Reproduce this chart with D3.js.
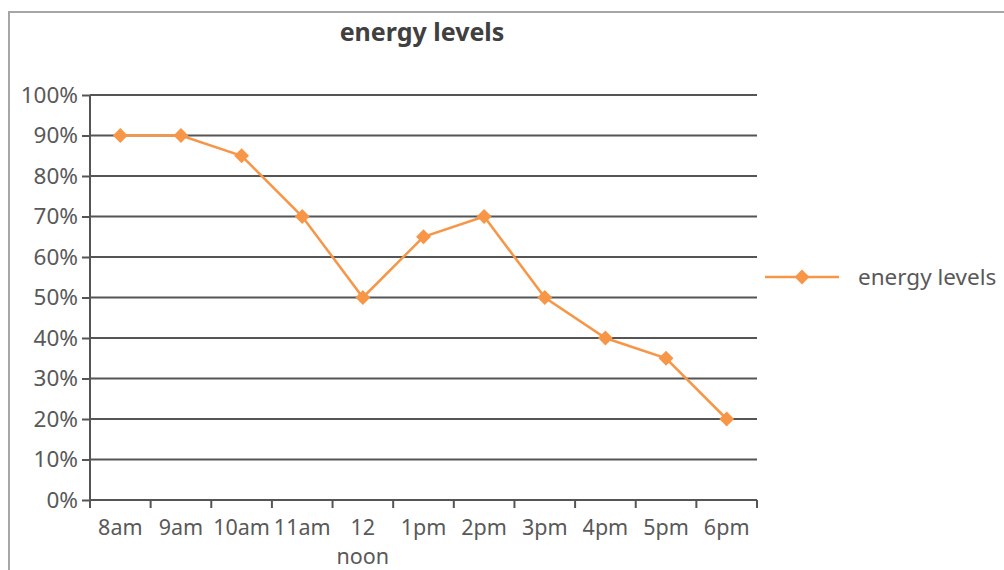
<!DOCTYPE html>
<html>
<head>
  <meta charset="utf-8">
  <title>energy levels</title>
  <style>
    body { margin: 0; background: #fff; }
    text { font-family: "Noto Sans", sans-serif; fill: #595959; }
  </style>
</head>
<body>
  <div id="viz"></div>
  <script src="https://d3js.org/d3.v7.min.js"></script>
  <script>
    // data
    const hours = ['8am', '9am', '10am', '11am', '12 noon', '1pm', '2pm', '3pm', '4pm', '5pm', '6pm'];
    const energy = [0.90, 0.90, 0.85, 0.70, 0.50, 0.65, 0.70, 0.50, 0.40, 0.35, 0.20];
    const seriesName = 'energy levels';
    const yTicks = [0, 0.1, 0.2, 0.3, 0.4, 0.5, 0.6, 0.7, 0.8, 0.9, 1.0];

    const W = 1004, H = 570;
    const orange = '#F79646', gridCol = '#555555';
    let margin = { top: 95, left: 90 },
      width = 757 - 90,
      height = 500 - 95;

    let svg = d3.select('#viz')
      .append('svg')
      .attr('width', W)
      .attr('height', H);

    // outer frame
    svg.append('rect')
      .attr('x', 9).attr('y', 12)
      .attr('width', W + 10).attr('height', H + 10)
      .attr('fill', 'none')
      .attr('stroke', '#a6a6a6')
      .attr('stroke-width', 2);

    svg.append('text')
      .attr('x', 422).attr('y', 41)
      .attr('text-anchor', 'middle')
      .style('font-size', '25px')
      .style('font-weight', 'bold')
      .style('fill', '#404040')
      .text('energy levels');

    let g = svg.append('g')
      .attr('transform', `translate(${margin.left}, ${margin.top})`);

    let x = d3.scaleBand().domain(hours).range([0, width]);
    let y = d3.scaleLinear().domain([0, 1]).range([height, 0]);

    // gridlines + y axis
    let yAxis = g.append('g')
      .call(d3.axisLeft(y).tickValues(yTicks).tickFormat(d3.format('.0%')).tickSize(8).tickPadding(4));
    yAxis.select('.domain').remove();
    yAxis.selectAll('line').attr('stroke', gridCol).attr('stroke-width', 2);
    yAxis.selectAll('text').style('font-size', '22.5px').style('fill', '#595959')
      .style('font-family', '"Noto Sans", sans-serif');

    g.append('g').selectAll('line')
      .data(yTicks)
      .join('line')
      .attr('x1', 0).attr('x2', width)
      .attr('y1', d => y(d)).attr('y2', d => y(d))
      .attr('stroke', gridCol)
      .attr('stroke-width', 2);

    g.append('line')
      .attr('x1', 0).attr('x2', 0)
      .attr('y1', 0).attr('y2', height)
      .attr('stroke', gridCol)
      .attr('stroke-width', 2);

    // x axis ticks at band edges
    let edges = hours.map(h => x(h)).concat([width]);
    g.append('g').selectAll('line')
      .data(edges)
      .join('line')
      .attr('x1', d => d).attr('x2', d => d)
      .attr('y1', height).attr('y2', height + 8)
      .attr('stroke', gridCol)
      .attr('stroke-width', 2);

    let xl = g.append('g').selectAll('text')
      .data(hours)
      .join('text')
      .attr('x', d => x(d) + x.bandwidth() / 2)
      .attr('y', height + 35)
      .attr('text-anchor', 'middle')
      .style('font-size', '21.5px');
    xl.each(function (d) {
      let parts = d === '12 noon' ? ['12', 'noon'] : [d];
      d3.select(this).selectAll('tspan')
        .data(parts)
        .join('tspan')
        .attr('x', x(d) + x.bandwidth() / 2)
        .attr('dy', (p, i) => i ? 29 : 0)
        .text(p => p);
    });

    // line
    let line = d3.line()
      .x((d, i) => x(hours[i]) + x.bandwidth() / 2)
      .y(d => y(d));

    g.append('path')
      .datum(energy)
      .attr('d', line)
      .attr('fill', 'none')
      .attr('stroke', orange)
      .attr('stroke-width', 2.5);

    let diamond = d3.symbol().type(d3.symbolDiamond2).size(140);
    g.selectAll('.pt')
      .data(energy)
      .join('path')
      .attr('class', 'pt')
      .attr('d', diamond)
      .attr('transform', (d, i) => `translate(${x(hours[i]) + x.bandwidth() / 2}, ${y(d)})`)
      .attr('fill', orange);

    // legend
    let lg = svg.append('g').attr('transform', 'translate(765, 277)');
    lg.append('line').attr('x1', 0).attr('x2', 74).attr('y1', 0).attr('y2', 0)
      .attr('stroke', orange).attr('stroke-width', 2.5);
    lg.append('path').attr('d', diamond).attr('transform', 'translate(37, 0)').attr('fill', orange);
    lg.append('text').attr('x', 93).attr('y', 8)
      .style('font-size', '22.5px')
      .text(seriesName);
  </script>
</body>
</html>
